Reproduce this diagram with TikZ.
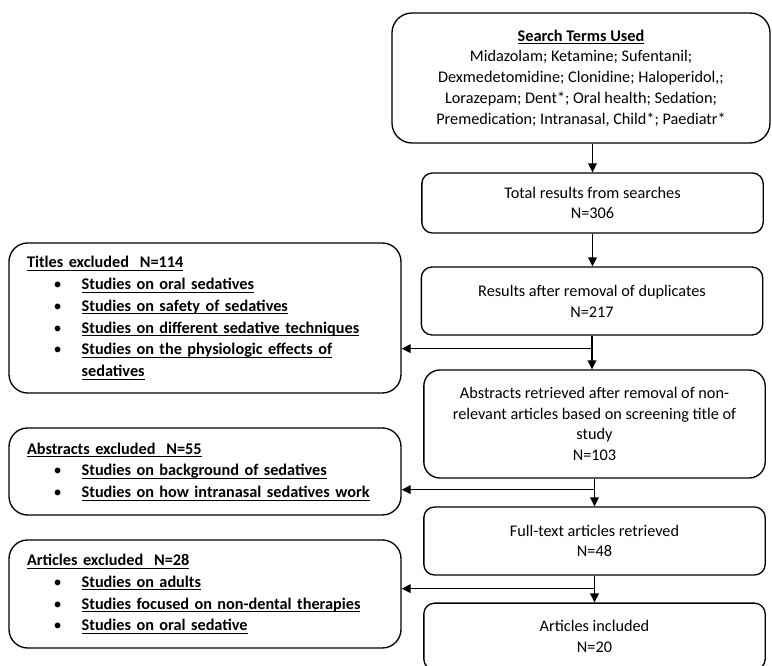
\documentclass[tikz,border=0pt]{standalone}
\usepackage{fontspec}
\setmainfont{Carlito}
\usetikzlibrary{arrows.meta}

\newcommand{\ulbox}[1]{\setbox0\hbox{#1}\rlap{\rule[-2.2pt]{\wd0}{0.65pt}}\box0}
\newcommand{\exitem}[1]{\makebox[41pt][l]{\hspace{20pt}\textbullet}\ulbox{\textbf{#1}}}
\newcommand{\exgap}{\hspace*{41pt}}

\begin{document}
\begin{tikzpicture}[x=0.75pt,y=-0.75pt,font=\fontsize{12.2pt}{15.6pt}\selectfont,
  box/.style={draw,line width=1pt,align=center,inner sep=0pt},
  stepbox/.style={box,rounded corners=8pt,minimum width=256pt},
  exclbox/.style={box,rounded corners=14pt,align=left,text width=267pt,inner xsep=13.5pt,
    font=\fontsize{12.2pt}{16.3pt}\selectfont},
  link/.style={line width=1pt,-{Triangle[length=6.75pt,width=6.5pt]}}]
\useasboundingbox (0,0) rectangle (772,666);

% main column
\node[box,rounded corners=15pt,minimum width=283.5pt,minimum height=97.5pt] (search) at (581,78)
  {\ulbox{\textbf{Search Terms Used}}\\Midazolam; Ketamine; Sufentanil;\\Dexmedetomidine; Clonidine; Haloperidol,;\\Lorazepam; Dent*; Oral health; Sedation;\\Premedication; Intranasal, Child*; Paediatr*};
\node[stepbox,minimum height=45pt] (total) at (592.5,203) {Total results from searches\\N=306};
\node[stepbox,minimum height=51pt] (dup) at (592,301) {Results after removal of duplicates\\N=217};
\node[stepbox,rounded corners=12pt,minimum height=81pt] (abstr) at (594.5,424)
  {Abstracts retrieved after removal of non-\\relevant articles based on screening title of\\study\\N=103};
\node[stepbox,minimum height=51pt] (full) at (594.5,541) {Full-text articles retrieved\\N=48};
\node[stepbox,minimum height=50pt] (incl) at (594.5,636.5) {Articles included\\N=20};

% exclusions
\node[exclbox,minimum height=112.5pt] (titles) at (205,318)
  {\ulbox{\textbf{Titles excluded\ \ N=114}}\\
   \exitem{Studies on oral sedatives}\\
   \exitem{Studies on safety of sedatives}\\
   \exitem{Studies on different sedative techniques}\\
   \exitem{Studies on the physiologic effects of}\\
   \exgap\ulbox{\textbf{sedatives}}};
\node[exclbox,minimum height=65.25pt] (absex) at (205,471.5)
  {\ulbox{\textbf{Abstracts excluded\ \ N=55}}\\
   \exitem{Studies on background of sedatives}\\
   \exitem{Studies on how intranasal sedatives work}};
\node[exclbox,minimum height=81pt] (artex) at (205,594)
  {\ulbox{\textbf{Articles excluded\ \ N=28}}\\
   \exitem{Studies on adults}\\
   \exitem{Studies focused on non-dental therapies}\\
   \exitem{Studies on oral sedative}};

% arrows
\draw[link] (search.south -| total.north) -- (total.north);
\draw[link] (total.south) -- (total.south |- dup.north);
\draw[link] (dup.south) -- (dup.south |- abstr.north);
\draw[link] (abstr.south) -- (full.north);
\draw[link] (full.south) -- (incl.north);

\coordinate (j1) at ([yshift=-9.75pt]dup.south);
\coordinate (j2) at ([yshift=-8.25pt]abstr.south);
\coordinate (j3) at ([yshift=-9.75pt]full.south);
\draw[link] (j1) -- (j1 -| titles.east);
\draw[link] (j2) -- (j2 -| absex.east);
\draw[link] (j3) -- (j3 -| artex.east);
\end{tikzpicture}
\end{document}
